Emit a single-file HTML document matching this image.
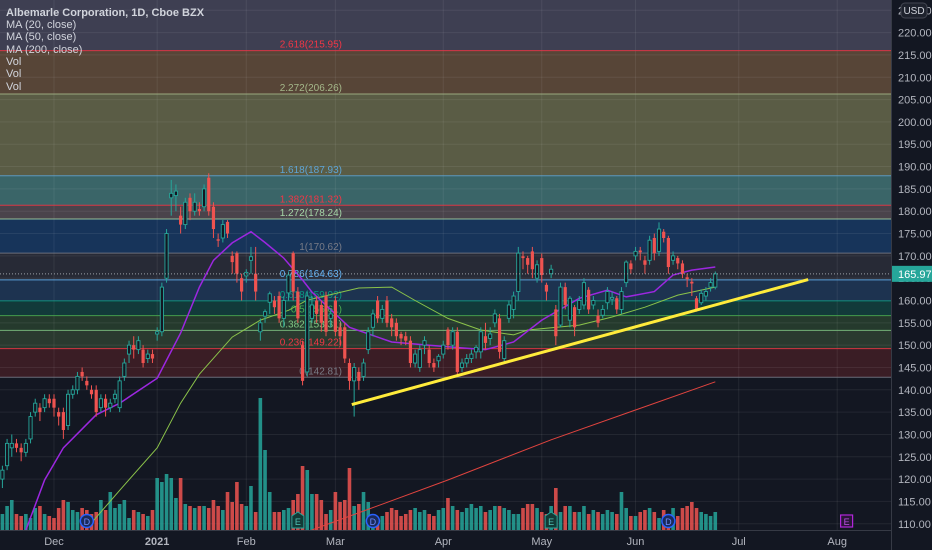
<!DOCTYPE html>
<html><head><meta charset="utf-8"><style>
html,body{margin:0;padding:0;background:#131722;overflow:hidden}
svg{display:block;font-family:"Liberation Sans",sans-serif}
</style></head><body>
<svg id="chart" width="932" height="550" viewBox="0 0 932 550">
<rect x="0" y="0" width="932" height="550" fill="#131722"/>
<defs><clipPath id="plotClip"><rect x="0" y="0" width="891" height="530"/></clipPath></defs>
<g id="fills" clip-path="url(#plotClip)"></g>
<g id="grid" clip-path="url(#plotClip)"></g>
<g id="fibLines" clip-path="url(#plotClip)"></g>
<g id="vols" clip-path="url(#plotClip)"></g>
<g id="mas" clip-path="url(#plotClip)"></g>
<g id="candles" clip-path="url(#plotClip)"></g>
<g id="overlay" clip-path="url(#plotClip)"></g>
<g id="axes"></g>
<g font-size="11" fill="#d1d4dc">
<text x="6" y="16" font-weight="bold">Albemarle Corporation, 1D, Cboe BZX</text>
<text x="6" y="28">MA (20, close)</text>
<text x="6" y="40">MA (50, close)</text>
<text x="6" y="53">MA (200, close)</text>
<text x="6" y="65">Vol</text>
<text x="6" y="77">Vol</text>
<text x="6" y="90">Vol</text>
</g>
</svg>
<script>
const opens=[120,123,127,128,127,126,129,135,136,136,
138,138,135,135,132,139,140,144,142,140,
140,136,138,136,138,136,143,148,150,149,
149,147,148,152.5,153,165,183,183.5,179,177,
183,180,180.5,181,187.5,181,173.7,174,177.6,170,
170.6,165,165.5,169,166,153,156.5,159.6,160,161,
156,161.7,170.6,162,150,144,156,160,159,161,
156,160,154,154,146,142,144,143,149,154,
160,156,160,156,155,152.5,152,151,146,145,
150,149,146,146.5,148,153.5,150,153,145,146,
147,148.5,148.5,152,151.5,155,156,147,156,158,
162,169.9,169.5,171,165,169.5,163.5,166,158,154.5,
163,155.6,158.5,158,159,162.4,159,156.6,156.7,159.5,
160.3,160.5,158,164,168.3,170,171.2,169,169,174,
171,175.4,174,169,169.5,168.3,165.2,164.2,160.5,159.5,
161,163,163];
const closes=[122,128,128,127,126,128,134,137,135,138,
137,136,134,131,139,140,143,143,141,139,
135,138,136,137,139,142,146,150,149,151,
146,148,147,153,163,175,184,184.5,177,182,
180,182,180,185,180,176,173.4,177,175,168.6,
166,162,166.3,169.8,162,155,157.5,161.5,158.5,156,
160,165.7,162,156,142,161,159,157,155,153,
157,153,152,147,142,145,142,146,153,157,
156,158,155,154,152,151.5,151,146,148,149,
151,146,145,147.5,150,150,153,144,146,147,
148,149.5,153,150.5,152.5,157,148.5,151,159,161,
170.6,169.5,168,167,168,165.7,162,167,152,163,
159,160.5,154,160,164,158,160,155,158,162,
160.7,158,162,168.6,167,171,170.8,168,173.5,170.6,
176,174,167.5,170,168.3,166,164.8,163.8,158,161.6,
162,164,165.97];
const highs=[123,129,130,129,128,129,135,138,137,139,
139,139,136,136,140,141,144,145,143,141,
141,139,139,138,140,143,147,151,152,152,
150,149,149,154,164,176,187,186,181,183,
184,184,182,186,188.5,182,175,178,178,171,
171,166,167,172,172,156,158,162,161,162,
161,166.5,171,163,151,162,161,161,160,162,
158,161,155,155,147,146,145,147,154,158,
161,159,161,157,156,153,153,152,149,150,
152,150,147,148,151,154,154,154,147,148,
149,150,154,155,154,158,157,152,160,162,
172,171,170,172,169,170.5,164,168,159,164,
164,161,159,161,165,163,161,158,159,163,
162,161,163,169,169,172,172,170,174.5,175,
177.5,176,174.5,171,170,169,166,165,161,162.5,
163,165,166.5];
const lows=[118,122,125,126,124,125,128,134,133,135,
136,134,132,129,131,138,139,142,140,138,
134,135,134,135,137,135,142,146,147,148,
145,146,146,151,152,164,179,180,175,176,
178,179,179,180,179,174,172,173,174,166,
164,160,164,166,160,151,155,157,157,155,
154,160,160,155,141,143,155,155,153,152,
154,152,150,146,140,134,140,142,148,152,
155,155,154,152,151,150,150,145,145,144,
148,145,144,145,147,149,149,143,144,145,
146,147,147,149,150,154,147,146,155,156,
160,167,166,165,164,164,160,165,150,154,
158,154,152,157,158,157,158,154,156,158,
159,157,157,163,166,169,169,166,168,169,
170,173,166,168,167,165,163,161,157.5,159,
160,162,162.5];
const volumes=[0.4,0.6,0.75,0.4,0.35,0.4,0.3,0.55,0.6,0.4,
0.35,0.3,0.55,0.75,0.7,0.5,0.45,0.55,0.5,0.4,
0.45,0.75,0.5,0.95,0.55,0.65,0.75,0.3,0.5,0.45,
0.4,0.35,0.5,1.3,1.2,1.4,1.3,0.8,1.3,0.65,
0.6,0.55,0.6,0.6,0.55,0.75,0.6,0.5,0.95,0.7,
1.2,0.65,0.6,1.1,0.45,3.3,2.0,0.95,0.45,0.45,
0.5,0.55,0.75,0.9,1.6,1.5,0.9,0.9,0.75,0.4,
0.5,0.95,0.7,0.75,1.55,0.6,0.65,0.95,0.7,0.4,
0.3,0.35,0.45,0.55,0.5,0.35,0.4,0.5,0.55,0.45,
0.5,0.4,0.35,0.5,0.55,0.8,0.6,0.5,0.45,0.55,
0.65,0.55,0.6,0.45,0.5,0.6,0.6,0.55,0.5,0.4,
0.4,0.55,0.65,0.65,0.55,0.45,0.4,0.6,1.05,0.45,
0.6,0.6,0.45,0.45,0.6,0.4,0.5,0.45,0.4,0.5,
0.45,0.4,0.95,0.55,0.35,0.35,0.45,0.5,0.55,0.45,
0.3,0.5,0.3,0.55,0.35,0.55,0.6,0.7,0.55,0.45,
0.4,0.35,0.45];
const ma20Idx=[5,9,13,20,25,33,38,42,45,49,53,56,60,64,66,74,83,91,99,103,109,115,123,129,133,139,143,147,152];
const ma20Val=[108.6,119.8,127,134.4,137,142.6,152.7,163,169,172.9,175.4,173,169.5,164.6,161.9,154,150.7,150,149.3,149,150.7,155.6,160.5,162.3,160.8,162,165.7,166.8,167.5];
const ma50Idx=[18,25,33,38,42,49,55,61,65,76,83,88,95,102,109,112,123,130,137,144,152];
const ma50Val=[109,117.5,127,137,143.5,151.8,155.6,157.8,160.1,162.8,163,160,156,153.4,152.3,153.4,154.5,156.3,158.5,161.2,163];
const ma200Idx=[66,95,117,152];
const ma200Val=[108.6,119.8,128.8,141.8];
const fibRatios=["0","0.236","0.382","0.5","0.618","0.786","1","1.272","1.382","1.618","2.272","2.618"];
const fibPrices=[142.81,149.22,153.31,156.61,159.92,164.63,170.62,178.24,181.32,187.93,206.26,215.95];
const trendIdx=[74.5,171.8];
const trendVal=[136.7,164.7];
const priceTicks=[110,115,120,125,130,135,140,145,150,155,160,165,170,175,180,185,190,195,200,205,210,215,220,225];
const monthLabels=["Dec","2021","Feb","Mar","Apr","May","Jun","Jul","Aug"];
const monthIdx=[11,33,52,71,94,115,135,157,178];
const dividendIdx=[18,79,142];
const earningsIdx=[63,117];
const futureEarningsIdx=[180];
const lastPrice=165.97;

const fibLineColors=["#787b86","#f23645","#81c784","#4caf50","#089981","#64b5f6","#787b86","#a5d6a7","#f23645","#5ea5d6","#a5b88a","#f23645"];
const fibFillColors=["#3a1d25","#2a3a2f","#253a2d","#123a3a","#1d3350","#272a36","#17345a","#4a434b","#3a6568","#5a5c45","#574537"];

const NS="http://www.w3.org/2000/svg";
const PLOT_R=891, VOL_BASE=530;
function xI(i){return 2.4+i*4.69;}
function yP(p){return 32.6+(220-p)*4.465;}
function yV(v){return VOL_BASE-v*40;}
function mk(tag,attrs,parent){const e=document.createElementNS(NS,tag);for(const k in attrs)e.setAttribute(k,attrs[k]);parent.appendChild(e);return e;}

const gF=document.getElementById('fills');
for(let k=0;k<fibPrices.length-1;k++){
  const r=mk('rect',{x:0,y:yP(fibPrices[k+1]),width:PLOT_R,height:yP(fibPrices[k])-yP(fibPrices[k+1]),fill:fibFillColors[k]},gF);
  
  
}
const topR=mk('rect',{x:0,y:0,width:PLOT_R,height:yP(fibPrices[fibPrices.length-1]),fill:"#3e3f52"},gF);



const gG=document.getElementById('grid');
priceTicks.forEach(p=>{const l=mk('line',{x1:0,x2:PLOT_R,y1:yP(p),y2:yP(p),stroke:"rgba(255,255,255,0.07)","stroke-width":1},gG);

});
monthIdx.forEach(i=>{const l=mk('line',{x1:xI(i),x2:xI(i),y1:0,y2:530,stroke:"rgba(255,255,255,0.07)","stroke-width":1},gG);

});

const gL=document.getElementById('fibLines');
fibPrices.forEach((p,k)=>{
  const l=mk('line',{x1:0,x2:PLOT_R,y1:yP(p),y2:yP(p),stroke:fibLineColors[k],"stroke-width":1,opacity:0.85},gL);
  
  
  const t=mk('text',{x:342,y:yP(p)-3,"text-anchor":"end","font-size":10,fill:fibLineColors[k]},gL);
  t.textContent=fibRatios[k]+'('+p.toFixed(2)+')';
  
  
});

const gV=document.getElementById('vols');
volumes.forEach((v,i)=>{
  const up=closes[i]>=opens[i];
  const r=mk('rect',{x:xI(i)-1.8,y:yV(v),width:3.6,height:VOL_BASE-yV(v),fill:up?"#26a69a":"#ef5350",opacity:0.85},gV);
  
  
});

const gM=document.getElementById('mas');
function maPath(idx,val,color,name,w){
  const d=idx.map((i,k)=>(k?'L':'M')+xI(i).toFixed(1)+','+yP(val[k]).toFixed(1)).join(' ');
  const p=mk('path',{d:d,fill:"none",stroke:color,"stroke-width":w},gM);
  
  
}
maPath(ma200Idx,ma200Val,"#e0443f","ma200-line",1);
maPath(ma50Idx,ma50Val,"#8bc34a","ma50-line",1);
maPath(ma20Idx,ma20Val,"#9c27e0","ma20-line",1.5);

const gC=document.getElementById('candles');
opens.forEach((o,i)=>{
  const c=closes[i], up=c>=o, col=up?"#26a69a":"#ef5350", x=xI(i);
  const g=mk('g',{},gC);
  
  
  mk('line',{x1:x,x2:x,y1:yP(highs[i]),y2:yP(lows[i]),stroke:col,"stroke-width":1},g);
  const top=yP(Math.max(o,c)), bot=yP(Math.min(o,c));
  mk('rect',{x:x-1.6,y:top,width:3.2,height:Math.max(1,bot-top),fill:up?"#131722":col,stroke:col,"stroke-width":up?0.9:0},g);
});

const gO=document.getElementById('overlay');
const lp=mk('line',{x1:0,x2:PLOT_R,y1:yP(lastPrice),y2:yP(lastPrice),stroke:"#9aa0a8","stroke-width":1,"stroke-dasharray":"1,2"},gO);


const tl=mk('line',{x1:xI(trendIdx[0]),y1:yP(trendVal[0]),x2:xI(trendIdx[1]),y2:yP(trendVal[1]),stroke:"#ffeb3b","stroke-width":3},gO);


dividendIdx.forEach(i=>{
  const g=mk('g',{},gO);
  
  
  mk('circle',{cx:xI(i),cy:521,r:6.5,fill:"#1a2a5a",stroke:"#2962ff","stroke-width":1.5},g);
  const t=mk('text',{x:xI(i),y:525,"text-anchor":"middle","font-size":9,fill:"#6d8cff"},g);t.textContent="D";
});
earningsIdx.forEach(i=>{
  const g=mk('g',{},gO);
  
  
  const x=xI(i);
  mk('path',{d:`M${x-6},516 L${x},512 L${x+6},516 L${x+6},528 L${x-6},528 Z`,fill:"#123a36",stroke:"#26a69a","stroke-width":1},g);
  const t=mk('text',{x:x,y:525,"text-anchor":"middle","font-size":9,fill:"#4fc3b5"},g);t.textContent="E";
});

const gA=document.getElementById('axes');
futureEarningsIdx.forEach(i=>{
  const g=mk('g',{},gA);
  
  
  const x=xI(i);
  mk('rect',{x:x-6,y:515,width:12,height:12,fill:"#2a1538",stroke:"#b026d9","stroke-width":1.2},g);
  const t=mk('text',{x:x,y:525,"text-anchor":"middle","font-size":9,fill:"#c050e8"},g);t.textContent="E";
});
const ax=mk('line',{x1:PLOT_R+0.5,x2:PLOT_R+0.5,y1:0,y2:550,stroke:"#363a45","stroke-width":1},gA);


const bx=mk('line',{x1:0,x2:PLOT_R,y1:530.5,y2:530.5,stroke:"#363a45","stroke-width":1},gA);


priceTicks.forEach(p=>{
  const t=mk('text',{x:898,y:yP(p)+4,"font-size":11,fill:"#b2b5be"},gA);
  t.textContent=p.toFixed(2);
  
  
});
monthLabels.forEach((m,k)=>{
  const t=mk('text',{x:xI(monthIdx[k]),y:545,"text-anchor":"middle","font-size":11,fill:"#b2b5be","font-weight":m==="2021"?"bold":"normal"},gA);
  t.textContent=m;
  
  
});
const pg=mk('g',{},gA);


mk('rect',{x:892,y:yP(lastPrice)-8,width:40,height:16,fill:"#26a69a"},pg);
const pt=mk('text',{x:898,y:yP(lastPrice)+4,"font-size":11,fill:"#ffffff"},pg);pt.textContent=lastPrice.toFixed(2);
const ug=mk('g',{},gA);


mk('rect',{x:901,y:3,width:26,height:15,rx:4,fill:"#1e222d",stroke:"#434651","stroke-width":1},ug);
const ut=mk('text',{x:914,y:14,"text-anchor":"middle","font-size":10,fill:"#d1d4dc"},ug);ut.textContent="USD";
</script>
</body></html>
